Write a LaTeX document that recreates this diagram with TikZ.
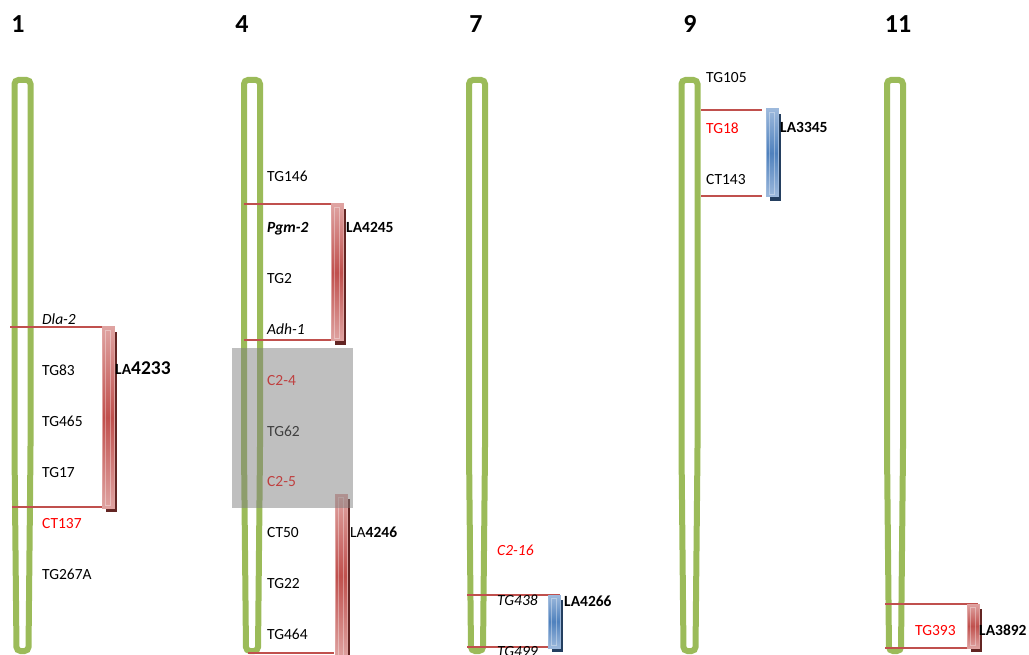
\documentclass[tikz,border=0pt]{standalone}
\usepackage{fontspec}
\setmainfont{Carlito}

\definecolor{chromgruen}{HTML}{9BBB59}
\definecolor{linienrot}{HTML}{C0504D}
\definecolor{barrot}{HTML}{C0504D}
\definecolor{barrothell}{HTML}{DFA3A1}
\definecolor{schattenrot}{HTML}{632523}
\definecolor{barblau}{HTML}{4F81BD}
\definecolor{barblauhell}{HTML}{9DB9DC}
\definecolor{schattenblau}{HTML}{243F60}
\definecolor{textrot}{HTML}{FF0000}

\tikzset{
    marker/.style={anchor=west, inner sep=0pt, text height=10pt, text depth=0pt,
        font=\fontsize{15.5}{18}\selectfont},
    lalabel/.style={marker, font=\fontsize{15.5}{18}\selectfont\bfseries},
    chromtitel/.style={inner sep=0pt, font=\fontsize{26}{30}\selectfont\bfseries},
    chrom/.style={draw=chromgruen, line width=6pt, rounded corners=4pt},
    klammer/.style={draw=linienrot, line width=2.2pt},
}

\begin{document}
\begin{tikzpicture}[x=1pt,y=-1pt]
    \useasboundingbox (0,0) rectangle (1029,655);

    % Chromosomen
    \foreach \c in {22.5,252,477,689.5,895} {
        \draw[chrom] (\c-6,651) -- (\c-8,450) -- (\c-8,80) -- (\c+8,80)
            -- (\c+8,450) -- (\c+6,651) -- cycle;
    }

    % Nummern
    \foreach \c/\t in {18/1, 242/4, 476/7, 690/9, 898/11} {
        \node[chromtitel] (titel\t) at (\c,24) {\t};
    }

    % Klammern
    \draw[klammer] (10,327) -- (114,327);
    \draw[klammer] (12,507) -- (102,507);
    \draw[klammer] (244,204) -- (344,204);
    \draw[klammer] (244,340) -- (331,340);
    \draw[klammer] (248,653) -- (334,653);
    \draw[klammer] (467,595) -- (560,595);
    \draw[klammer] (467,647) -- (548,647);
    \draw[klammer] (701,110) -- (762,110);
    \draw[klammer] (701,196) -- (762,196);
    \draw[klammer] (885,604) -- (978,604);
    \draw[klammer] (885,648) -- (967,648);

    % Balken mit Schatten
    \foreach \xa/\ya/\yb/\hell/\dunkel/\schatten in {
            102/327/508/barrothell/barrot/schattenrot,
            331/204/341/barrothell/barrot/schattenrot,
            335/494/658/barrothell/barrot/schattenrot,
            548/595/648/barblauhell/barblau/schattenblau,
            766/109/197/barblauhell/barblau/schattenblau,
            967/604/648/barrothell/barrot/schattenrot} {
        \fill[\schatten] (\xa+4,\ya+5) rectangle (\xa+15,\yb+4);
        \shade[top color=\hell, bottom color=\hell, middle color=\dunkel,
            draw=\hell, line width=1pt] (\xa,\ya) rectangle (\xa+12,\yb);
        \draw[white, opacity=0.35, line width=0.8pt] (\xa+3,\ya+3) rectangle (\xa+8,\yb-3);
    }

    % Marker
    \foreach \lab [count=\i from 0] in {{\textit{Dla-2}}, TG83, TG465, TG17,
            {\textcolor{textrot}{CT137}}, TG267A} {
        \node[marker] (m1-\i) at (42,320+50.8*\i) {\lab};
    }
    \foreach \lab [count=\i from 0] in {TG146, {\textbf{\textit{Pgm-2}}}, TG2,
            {\textit{Adh-1}}, {\textcolor{textrot}{C2-4}}, TG62,
            {\textcolor{textrot}{C2-5}}, CT50, TG22, TG464} {
        \node[marker] (m4-\i) at (267,177+50.8*\i) {\lab};
    }
    \foreach \lab [count=\i from 0] in {{\textit{\textcolor{textrot}{C2-16}}},
            {\textit{TG438}}, {\textit{TG499}}} {
        \node[marker] (m7-\i) at (497,550+50.8*\i) {\lab};
    }
    \foreach \lab [count=\i from 0] in {TG105, {\textcolor{textrot}{TG18}}, CT143} {
        \node[marker] (m9-\i) at (706,78+50.8*\i) {\lab};
    }
    \node[marker] (m11-0) at (915,630) {\textcolor{textrot}{TG393}};

    % Linien-Namen
    \node[lalabel] (la4233) at (115,369) {LA\fontsize{19.5}{22}\selectfont 4233};
    \node[lalabel] (la4245) at (346,228) {LA4245};
    \node[lalabel] (la4246) at (350,532) {{\mdseries LA}4246};
    \node[lalabel] (la4266) at (564,601) {LA4266};
    \node[lalabel] (la3345) at (780,128) {LA3345};
    \node[lalabel] (la3892) at (979,630) {LA3892};

    % grauer Bereich
    \fill[gray, opacity=0.5] (232,348) rectangle (353,508);
\end{tikzpicture}
\end{document}
